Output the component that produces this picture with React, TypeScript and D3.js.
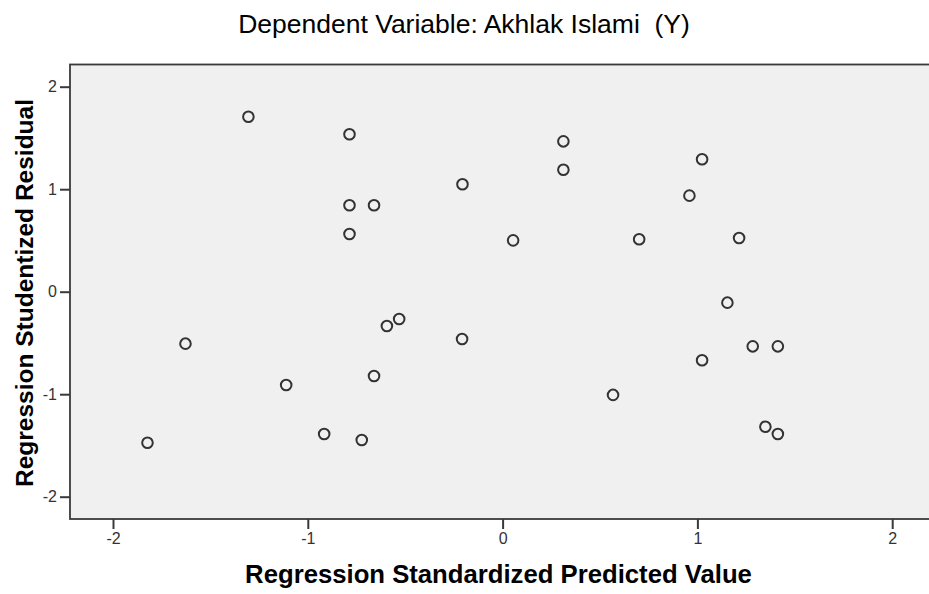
import React, { useEffect, useRef } from 'react';
import * as d3 from 'd3';

// standardized predicted value (x) and studentized residual (y)
const predicted = [
  -1.305, -0.786, 0.312, 0.312, 1.024, -0.206, 0.959, -0.786, -0.660, -0.786,
  0.054, 0.701, 1.214, 1.154, -0.531, -0.594, -0.208, -1.628, 1.284, 1.413,
  1.024, -0.660, -1.111, 0.567, -0.916, 1.349, 1.413, -1.823, -0.723,
];
const residual = [
  1.707, 1.536, 1.467, 1.190, 1.292, 1.048, 0.937, 0.843, 0.843, 0.563,
  0.501, 0.511, 0.524, -0.107, -0.266, -0.335, -0.461, -0.507, -0.533, -0.533,
  -0.669, -0.822, -0.910, -1.007, -1.388, -1.317, -1.388, -1.473, -1.447,
];
const xTicks = [-2, -1, 0, 1, 2];
const yTicks = [-2, -1, 0, 1, 2];

const title = 'Dependent Variable: Akhlak Islami  (Y)';
const xLabel = 'Regression Standardized Predicted Value';
const yLabel = 'Regression Studentized Residual';

const font = '"Liberation Sans", Arial, sans-serif';

const App: React.FC = () => {
  const svgRef = useRef<SVGSVGElement | null>(null);

  useEffect(() => {
    const width = 929;
    const height = 594;
    const left = 70;
    const top = 64.5;
    const bottom = 519;
    const right = 932; // frame runs off the right edge

    const svg = d3.select(svgRef.current);
    svg.selectAll('*').remove();
    svg.attr('width', width).attr('height', height).style('font-family', font);

    const x = d3.scaleLinear().domain([-2, 2]).range([113, 892.2]);
    const y = d3.scaleLinear().domain([-2, 2]).range([496.7, 86.7]);

    svg.append('rect')
      .attr('x', left).attr('y', top)
      .attr('width', right - left).attr('height', bottom - top)
      .attr('fill', '#f0f0f0')
      .attr('stroke', '#3a3a3a')
      .attr('stroke-width', 1.8);

    // y axis
    const ya = svg.append('g').attr('transform', `translate(${left},0)`)
      .call(d3.axisLeft(y).tickValues(yTicks).tickSize(10).tickPadding(3).tickFormat(d => String(d)));
    ya.select('.domain').remove();
    ya.selectAll('line').attr('stroke', '#3a3a3a').attr('stroke-width', 2);
    ya.selectAll('text').attr('fill', '#333').attr('font-size', 16).attr('font-family', font);

    // x axis
    const xa = svg.append('g').attr('transform', `translate(0,${bottom})`)
      .call(d3.axisBottom(x).tickValues(xTicks).tickSize(10).tickPadding(4).tickFormat(d => String(d)));
    xa.select('.domain').remove();
    xa.selectAll('line').attr('stroke', '#3a3a3a').attr('stroke-width', 2);
    xa.selectAll('text').attr('fill', '#333').attr('font-size', 16).attr('font-family', font);

    // points
    svg.append('g')
      .selectAll('circle')
      .data(d3.range(predicted.length))
      .join('circle')
      .attr('cx', i => x(predicted[i]))
      .attr('cy', i => y(residual[i]))
      .attr('r', 5.3)
      .attr('fill', 'none')
      .attr('stroke', '#333')
      .attr('stroke-width', 2);

    svg.append('text')
      .attr('x', 464).attr('y', 33)
      .attr('text-anchor', 'middle')
      .attr('font-size', 26.5)
      .attr('fill', '#000')
      .style('white-space', 'pre')
      .text(title);

    svg.append('text')
      .attr('x', 498.5).attr('y', 583)
      .attr('text-anchor', 'middle')
      .attr('font-size', 25.7)
      .attr('font-weight', 'bold')
      .attr('fill', '#000')
      .text(xLabel);

    svg.append('text')
      .attr('transform', `translate(33,293) rotate(-90)`)
      .attr('text-anchor', 'middle')
      .attr('font-size', 24.5)
      .attr('font-weight', 'bold')
      .attr('fill', '#000')
      .text(yLabel);
  }, []);

  return (
    <div style={{ position: 'absolute', left: 0, top: 0 }}>
      <svg ref={svgRef} style={{ display: 'block' }}></svg>
    </div>
  );
};

export default App;
